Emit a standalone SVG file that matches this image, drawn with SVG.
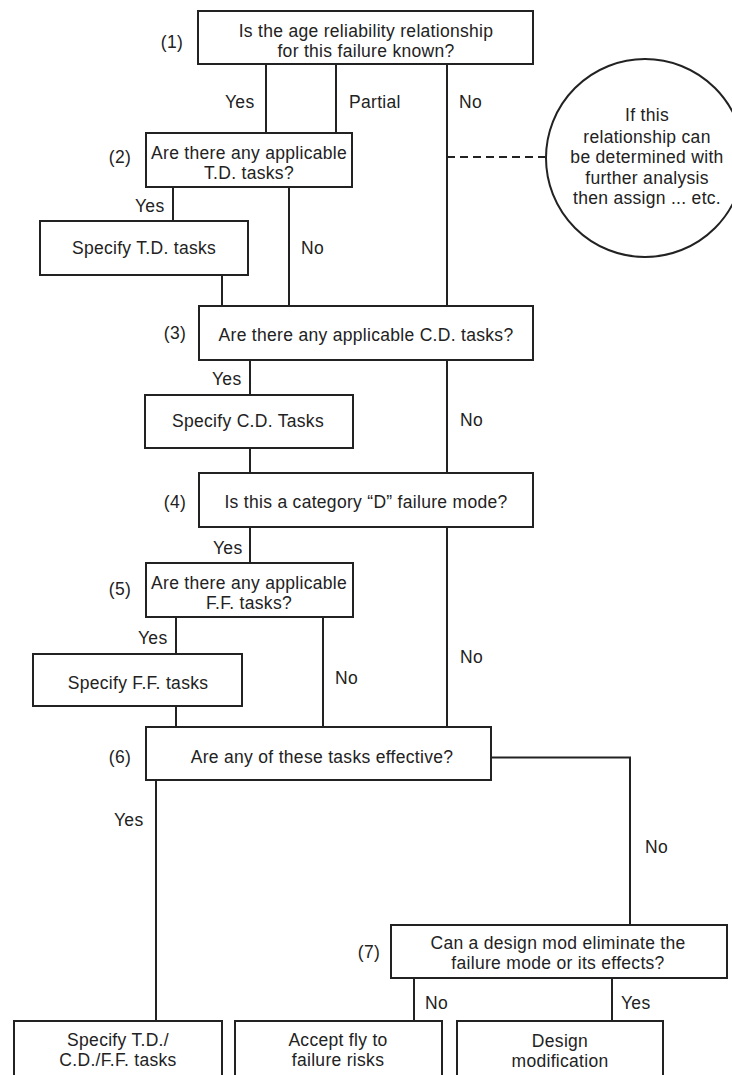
<svg xmlns="http://www.w3.org/2000/svg" width="732" height="1075" viewBox="0 0 732 1075">
<style>
.box{fill:#fff;stroke:#222;stroke-width:2}
.ln{fill:none;stroke:#222;stroke-width:2}
.dash{fill:none;stroke:#222;stroke-width:2;stroke-dasharray:8 5}
text{font-family:"Liberation Sans",Arial,Helvetica,sans-serif;font-size:17.5px;letter-spacing:0.3px;fill:#222}
.c{text-anchor:middle}
</style>
<rect width="732" height="1075" fill="#fff"/>
<g id="connectors">
<path class="ln" d="M266 64V133"/>
<path class="ln" d="M336 64V133"/>
<path class="ln" d="M447 64V306"/>
<path class="dash" d="M447 157H545"/>
<path class="ln" d="M173 187V221"/>
<path class="ln" d="M289 187V306"/>
<path class="ln" d="M222 275V306"/>
<path class="ln" d="M250 360V395"/>
<path class="ln" d="M250 448V473"/>
<path class="ln" d="M447 360V473"/>
<path class="ln" d="M250 527V563"/>
<path class="ln" d="M176 617V654"/>
<path class="ln" d="M323 617V727"/>
<path class="ln" d="M176 706V727"/>
<path class="ln" d="M447 527V727"/>
<path class="ln" d="M491 757.5H630V925"/>
<path class="ln" d="M156 780V1021"/>
<path class="ln" d="M414 978V1021"/>
<path class="ln" d="M612 978V1021"/>
<text x="225" y="108">Yes</text>
<text x="349" y="108">Partial</text>
<text x="459" y="108">No</text>
<text x="135" y="212">Yes</text>
<text x="301" y="254">No</text>
<text x="212" y="385">Yes</text>
<text x="460" y="426">No</text>
<text x="213" y="554">Yes</text>
<text x="138" y="644">Yes</text>
<text x="335" y="684">No</text>
<text x="460" y="663">No</text>
<text x="114" y="826">Yes</text>
<text x="645" y="853">No</text>
<text x="425" y="1009">No</text>
<text x="621" y="1009">Yes</text>
</g>
<g id="n1">
<rect class="box" x="198" y="11" width="335" height="53"/>
<text class="c" x="366" y="37">Is the age reliability relationship</text>
<text class="c" x="366" y="57">for this failure known?</text>
<text class="c" x="172" y="48">(1)</text>
</g>
<g id="note">
<circle class="box" cx="645" cy="158" r="99"/>
<text class="c" x="647" y="121">If this</text>
<text class="c" x="647" y="143">relationship can</text>
<text class="c" x="647" y="163">be determined with</text>
<text class="c" x="647" y="184">further analysis</text>
<text class="c" x="647" y="204">then assign ... etc.</text>
</g>
<g id="n2">
<rect class="box" x="146" y="133" width="206" height="54"/>
<text class="c" x="249" y="159">Are there any applicable</text>
<text class="c" x="249" y="179">T.D. tasks?</text>
<text class="c" x="120" y="163">(2)</text>
</g>
<g id="td">
<rect class="box" x="40" y="221" width="208" height="54"/>
<text class="c" x="144" y="254">Specify T.D. tasks</text>
</g>
<g id="n3">
<rect class="box" x="199" y="306" width="334" height="54"/>
<text class="c" x="366" y="341">Are there any applicable C.D. tasks?</text>
<text class="c" x="175" y="339">(3)</text>
</g>
<g id="cd">
<rect class="box" x="145" y="395" width="208" height="53"/>
<text class="c" x="248" y="427">Specify C.D. Tasks</text>
</g>
<g id="n4">
<rect class="box" x="199" y="473" width="334" height="54"/>
<text class="c" x="366" y="508">Is this a category “D” failure mode?</text>
<text class="c" x="175" y="508">(4)</text>
</g>
<g id="n5">
<rect class="box" x="146" y="563" width="207" height="54"/>
<text class="c" x="249" y="589">Are there any applicable</text>
<text class="c" x="249" y="609">F.F. tasks?</text>
<text class="c" x="120" y="595">(5)</text>
</g>
<g id="ff">
<rect class="box" x="33" y="654" width="209" height="52"/>
<text class="c" x="138" y="689">Specify F.F. tasks</text>
</g>
<g id="n6">
<rect class="box" x="146" y="727" width="345" height="53"/>
<text class="c" x="322" y="763">Are any of these tasks effective?</text>
<text class="c" x="120" y="763">(6)</text>
</g>
<g id="n7">
<rect class="box" x="391" y="925" width="336" height="53"/>
<text class="c" x="558" y="949">Can a design mod eliminate the</text>
<text class="c" x="558" y="969">failure mode or its effects?</text>
<text class="c" x="369" y="958">(7)</text>
</g>
<g id="outA">
<rect class="box" x="14" y="1021" width="208" height="70"/>
<text class="c" x="118" y="1046">Specify T.D./</text>
<text class="c" x="118" y="1066">C.D./F.F. tasks</text>
</g>
<g id="outB">
<rect class="box" x="235" y="1021" width="207" height="70"/>
<text class="c" x="338" y="1046">Accept fly to</text>
<text class="c" x="338" y="1066">failure risks</text>
</g>
<g id="outC">
<rect class="box" x="457" y="1021" width="206" height="70"/>
<text class="c" x="560" y="1047">Design</text>
<text class="c" x="560" y="1067">modification</text>
</g>
</svg>
